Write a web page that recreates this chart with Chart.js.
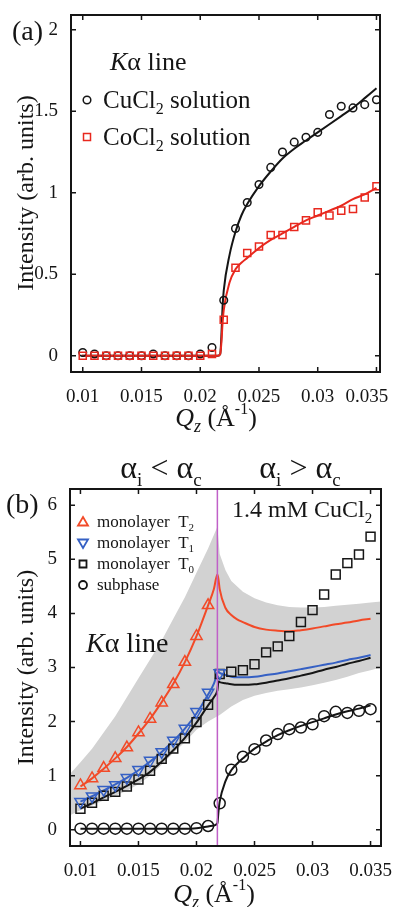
<!DOCTYPE html>
<html>
<head>
<meta charset="utf-8">
<script src="https://cdn.jsdelivr.net/npm/chart.js@4.4.1/dist/chart.umd.min.js"></script>
<style>
html, body { margin: 0; padding: 0; background: #fff; }
#wrap { position: relative; width: 394px; height: 907px; overflow: hidden; }
canvas { position: absolute; left: 0; }
#chartA { top: 0; }
#chartB { top: 440px; }
</style>
</head>
<body>
<div id="wrap">
  <canvas id="chartA" width="394" height="440"></canvas>
  <canvas id="chartB" width="394" height="467"></canvas>
</div>
<script>
// ---------- panel (a): bulk solutions, Ka line ----------
const qA = [0.010, 0.011, 0.012, 0.013, 0.014, 0.015, 0.016, 0.017, 0.018, 0.019, 0.020, 0.021, 0.022,
            0.023, 0.024, 0.025, 0.026, 0.027, 0.028, 0.029, 0.030, 0.031, 0.032, 0.033, 0.034, 0.035];
const cuCl2 = [0.02, 0.01, 0, 0, 0, 0, 0.01, 0, 0, 0, 0.01, 0.05, 0.34,
               0.78, 0.94, 1.05, 1.155, 1.25, 1.31, 1.34, 1.37, 1.48, 1.53, 1.52, 1.54, 1.57];
const coCl2 = [0, 0, 0, 0, 0, 0, 0, 0, 0, 0, 0, 0.01, 0.22,
               0.54, 0.63, 0.67, 0.74, 0.74, 0.79, 0.83, 0.88, 0.86, 0.89, 0.90, 0.97, 1.04];
const qFitA = [0.0099, 0.0215, 0.0217, 0.0218, 0.0219, 0.022, 0.0225, 0.023, 0.0235, 0.024, 0.025,
               0.026, 0.027, 0.028, 0.029, 0.030, 0.031, 0.032, 0.033, 0.034, 0.035];
const cuCl2Fit = [0, 0, 0.01, 0.12, 0.3, 0.4, 0.62, 0.76, 0.86, 0.93, 1.04,
                  1.13, 1.21, 1.27, 1.32, 1.37, 1.42, 1.47, 1.52, 1.58, 1.64];
const coCl2Fit = [0, 0, 0.01, 0.08, 0.2, 0.28, 0.45, 0.53, 0.57, 0.6, 0.66,
                  0.71, 0.75, 0.79, 0.83, 0.86, 0.89, 0.92, 0.96, 0.99, 1.03];
const yTicksA = [0, 0.5, 1, 1.5, 2];

// ---------- panel (b): monolayer on 1.4 mM CuCl2 ----------
const qB = qA;
const subphase = [0.02, 0.02, 0.02, 0.02, 0.02, 0.02, 0.02, 0.02, 0.02, 0.02, 0.03, 0.07, 0.49,
                  1.11, 1.35, 1.49, 1.65, 1.77, 1.86, 1.89, 1.95, 2.10, 2.18, 2.16, 2.20, 2.23];
const monoT0 = [0.39, 0.50, 0.63, 0.70, 0.80, 0.93, 1.09, 1.31, 1.50, 1.69, 1.99, 2.31, 2.88,
                2.92, 2.95, 3.06, 3.28, 3.39, 3.58, 3.84, 4.06, 4.35, 4.72, 4.93, 5.09, 5.42];
const monoT1 = [0.52, 0.62, 0.74, 0.83, 0.96, 1.11, 1.28, 1.44, 1.65, 1.87, 2.18, 2.54, 2.90];
const monoT2 = [0.82, 0.95, 1.14, 1.32, 1.52, 1.80, 2.05, 2.35, 2.69, 3.10, 3.58, 4.15];

const qFitB = [0.010, 0.011, 0.012, 0.013, 0.014, 0.015, 0.016, 0.017, 0.018, 0.019, 0.020, 0.021,
               0.0215, 0.0218, 0.0219, 0.022, 0.0225, 0.023, 0.0235, 0.024,
               0.025, 0.026, 0.027, 0.028, 0.029, 0.030, 0.031, 0.032, 0.033, 0.034, 0.035];
const t2Fit = [0.80, 0.95, 1.13, 1.32, 1.53, 1.78, 2.05, 2.36, 2.70, 3.10, 3.58, 4.15,
               4.45, 4.72, 4.62, 4.45, 4.10, 3.97, 3.89, 3.84,
               3.75, 3.70, 3.68, 3.67, 3.69, 3.72, 3.76, 3.80, 3.83, 3.87, 3.90];
const t1Fit = [0.52, 0.62, 0.73, 0.84, 0.96, 1.10, 1.26, 1.44, 1.64, 1.87, 2.15, 2.50,
               2.70, 2.90, 2.92, 2.90, 2.86, 2.83, 2.82, 2.82,
               2.83, 2.86, 2.89, 2.93, 2.97, 3.01, 3.05, 3.09, 3.14, 3.18, 3.23];
const t0Fit = [0.39, 0.49, 0.60, 0.70, 0.81, 0.93, 1.07, 1.26, 1.47, 1.70, 1.98, 2.30,
               2.45, 2.58, 2.74, 2.73, 2.71, 2.69, 2.68, 2.68,
               2.69, 2.72, 2.76, 2.80, 2.85, 2.90, 2.96, 3.01, 3.07, 3.12, 3.18];
const subFit = [0.02, 0.02, 0.02, 0.02, 0.02, 0.02, 0.02, 0.02, 0.02, 0.02, 0.03, 0.06,
                0.08, 0.12, 0.35, 0.52, 0.90, 1.10, 1.22, 1.32,
                1.50, 1.63, 1.75, 1.84, 1.92, 1.99, 2.06, 2.13, 2.19, 2.24, 2.30];

const qBand = [0.0091, 0.010, 0.011, 0.012, 0.013, 0.014, 0.015, 0.016, 0.017, 0.018, 0.019, 0.020, 0.021,
               0.0218, 0.022, 0.0225, 0.023, 0.024, 0.025, 0.026, 0.027, 0.028, 0.029, 0.030,
               0.031, 0.032, 0.033, 0.034, 0.035, 0.0359];
const bandUpper = [1.03, 1.25, 1.5, 1.8, 2.1, 2.45, 2.8, 3.15, 3.5, 3.9, 4.3, 4.75, 5.2,
                   5.6, 5.1, 4.8, 4.6, 4.4, 4.28, 4.2, 4.15, 4.12, 4.11, 4.11,
                   4.12, 4.14, 4.16, 4.18, 4.2, 4.22];
const bandLower = [0.27, 0.36, 0.45, 0.54, 0.63, 0.72, 0.84, 1.0, 1.2, 1.42, 1.62, 1.85, 2.0,
                   2.1, 2.12, 2.2, 2.28, 2.4, 2.48, 2.53, 2.57, 2.6, 2.63, 2.67,
                   2.72, 2.77, 2.83, 2.9, 2.95, 3.0];
const qCritical = 0.0218;
const yTicksB = [0, 1, 2, 3, 4, 5, 6];
const xTicks = [0.01, 0.015, 0.02, 0.025, 0.03, 0.035];

const SERIF = '"Liberation Serif", "Times New Roman", serif';
const INK = '#151515';
const RED = '#e8281e';
const ORANGE = '#f24a28';
const BLUE = '#3560c4';

function pts(xs, ys) {
  return ys.map((y, i) => ({ x: xs[i], y: y }));
}

// draw a run of text pieces (italic, smaller, raised/lowered) starting at x or centred on x
function rich(ctx, parts, x, y, size, center) {
  let w = 0;
  const fonts = parts.map(p => {
    const f = (p.i ? 'italic ' : '') + Math.round(size * (p.s || 1)) + 'px ' + SERIF;
    ctx.font = f;
    const pw = ctx.measureText(p.t).width;
    w += pw;
    return [f, pw];
  });
  let cx = center ? x - w / 2 : x;
  ctx.textAlign = 'left';
  ctx.textBaseline = 'alphabetic';
  parts.forEach((p, k) => {
    ctx.font = fonts[k][0];
    ctx.fillText(p.t, cx, y + (p.dy || 0) * size);
    cx += fonts[k][1];
  });
}

const qTitle = [{ t: 'Q', i: 1 }, { t: 'z', i: 1, s: 0.7, dy: 0.22 }, { t: ' (Å' },
                { t: '-1', s: 0.6, dy: -0.45 }, { t: ')' }];

// box with inward ticks on all four sides, like the original figure
const frame = {
  id: 'frame',
  afterDatasetsDraw(chart) {
    const { ctx, chartArea: a, scales: { x, y } } = chart;
    ctx.save();
    ctx.strokeStyle = INK;
    ctx.lineWidth = 1.5;
    ctx.beginPath();
    x.ticks.forEach(t => {
      const px = x.getPixelForValue(t.value);
      ctx.moveTo(px, a.bottom); ctx.lineTo(px, a.bottom - 5);
      ctx.moveTo(px, a.top); ctx.lineTo(px, a.top + 5);
    });
    y.ticks.forEach(t => {
      const py = y.getPixelForValue(t.value);
      ctx.moveTo(a.left, py); ctx.lineTo(a.left + 5, py);
      ctx.moveTo(a.right, py); ctx.lineTo(a.right - 5, py);
    });
    ctx.stroke();
    ctx.lineWidth = 2;
    ctx.strokeRect(a.left, a.top, a.right - a.left, a.bottom - a.top);
    ctx.restore();
  }
};

function yTitle(ctx, cx, cy) {
  ctx.save();
  ctx.translate(cx, cy);
  ctx.rotate(-Math.PI / 2);
  ctx.fillStyle = INK;
  rich(ctx, [{ t: 'Intensity (arb. units)' }], 0, 0, 24, true);
  ctx.restore();
}

function axes(xmin, xmax, ymin, ymax, yTicks, yWidth, xHeight, lastPad) {
  const tickFont = { family: SERIF, size: 19 };
  return {
    x: {
      type: 'linear', min: xmin, max: xmax,
      afterBuildTicks: s => { s.ticks = xTicks.map(v => ({ value: v })); },
      afterFit: s => { s.height = xHeight; s.paddingLeft = 0; s.paddingRight = 0; },
      grid: { display: false }, border: { display: false },
      ticks: {
        font: tickFont, color: INK, padding: 6, autoSkip: false, maxRotation: 0,
        callback: v => String(+v.toFixed(3)) + (v > 0.034 ? lastPad : '')
      }
    },
    y: {
      min: ymin, max: ymax,
      afterBuildTicks: s => { s.ticks = yTicks.map(v => ({ value: v })); },
      afterFit: s => { s.width = yWidth; s.paddingTop = 0; s.paddingBottom = 0; },
      grid: { display: false }, border: { display: false },
      ticks: { font: tickFont, color: INK, padding: 5, callback: v => String(v) }
    }
  };
}

const markerSet = (label, data, style, color, r, extra) => Object.assign({
  label: label, data: data, showLine: false, pointStyle: style, pointRadius: r,
  pointBorderColor: color, pointBackgroundColor: 'rgba(255,255,255,0)', pointBorderWidth: 1.5, order: 1
}, extra || {});

const fitSet = (label, data, color) => ({
  label: label, data: data, showLine: true, pointRadius: 0, borderColor: color,
  borderWidth: 2, cubicInterpolationMode: 'monotone', order: 3
});

// ---------- chart (a) ----------
const notesA = {
  id: 'notesA',
  afterDraw(chart) {
    const ctx = chart.ctx;
    ctx.save();
    ctx.fillStyle = INK;
    rich(ctx, [{ t: '(a)' }], 12, 40, 28);
    rich(ctx, [{ t: 'K', i: 1 }, { t: 'α line' }], 110, 70, 26);
    rich(ctx, [{ t: 'CuCl' }, { t: '2', s: 0.62, dy: 0.25 }, { t: ' solution' }], 103, 108, 25);
    rich(ctx, [{ t: 'CoCl' }, { t: '2', s: 0.62, dy: 0.25 }, { t: ' solution' }], 103, 145, 25);
    ctx.lineWidth = 1.5;
    ctx.strokeStyle = INK;
    ctx.beginPath(); ctx.arc(87, 100, 3.8, 0, Math.PI * 2); ctx.stroke();
    ctx.strokeStyle = RED;
    ctx.strokeRect(83.5, 133.5, 7, 7);
    rich(ctx, qTitle, 216, 426, 26, true);
    yTitle(ctx, 33, 193);
    ctx.restore();
  }
};

new Chart(document.getElementById('chartA'), {
  type: 'scatter',
  data: {
    datasets: [
      markerSet('CoCl2 solution', pts(qA, coCl2), 'rect', RED, 5),
      markerSet('CuCl2 solution', pts(qA, cuCl2), 'circle', INK, 3.8, { order: 2 }),
      fitSet('CoCl2 fit', pts(qFitA, coCl2Fit), RED),
      fitSet('CuCl2 fit', pts(qFitA, cuCl2Fit), INK)
    ]
  },
  options: {
    responsive: false, animation: false, devicePixelRatio: 1,
    layout: { padding: { top: 15, right: 14, left: 0, bottom: 0 } },
    scales: axes(0.009, 0.0353, -0.1, 2.09, yTicksA, 71, 68, '\u2002\u2002'),
    plugins: { legend: { display: false }, tooltip: { enabled: false } }
  },
  plugins: [frame, notesA]
});

// ---------- chart (b) ----------
const notesB = {
  id: 'notesB',
  afterDraw(chart) {
    const ctx = chart.ctx;
    ctx.save();
    ctx.fillStyle = INK;
    rich(ctx, [{ t: '(b)' }], 6, 73, 28);
    rich(ctx, [{ t: 'α' }, { t: 'i', s: 0.6, dy: 0.25 }, { t: ' < α' }, { t: 'c', s: 0.6, dy: 0.25 }], 161, 38, 32, true);
    rich(ctx, [{ t: 'α' }, { t: 'i', s: 0.6, dy: 0.25 }, { t: ' > α' }, { t: 'c', s: 0.6, dy: 0.25 }], 300, 38, 32, true);
    rich(ctx, [{ t: '1.4 mM CuCl' }, { t: '2', s: 0.62, dy: 0.25 }], 232, 77, 24);
    rich(ctx, [{ t: 'K', i: 1 }, { t: 'α line' }], 86, 212, 28);

    const rows = [
      [ORANGE, 'up', 'monolayer  T', '2'],
      [BLUE, 'down', 'monolayer  T', '1'],
      [INK, 'square', 'monolayer  T', '0'],
      [INK, 'circle', 'subphase', '']
    ];
    rows.forEach((r, k) => {
      const cy = 82 + k * 21;
      ctx.strokeStyle = r[0];
      ctx.lineWidth = 1.8;
      ctx.beginPath();
      if (r[1] === 'up') { ctx.moveTo(83, cy - 5); ctx.lineTo(88, cy + 3.5); ctx.lineTo(78, cy + 3.5); ctx.closePath(); }
      if (r[1] === 'down') { ctx.moveTo(83, cy + 5); ctx.lineTo(88, cy - 3.5); ctx.lineTo(78, cy - 3.5); ctx.closePath(); }
      if (r[1] === 'square') { ctx.rect(79.5, cy - 3.5, 7, 7); }
      if (r[1] === 'circle') { ctx.arc(83, cy, 4, 0, Math.PI * 2); }
      ctx.stroke();
      ctx.fillStyle = INK;
      const parts = [{ t: r[2] }];
      if (r[3]) parts.push({ t: r[3], s: 0.62, dy: 0.25 });
      rich(ctx, parts, 97, cy + 5, 17);
    });

    rich(ctx, qTitle, 214, 462, 26, true);
    yTitle(ctx, 33, 227.5);
    ctx.restore();
  }
};

new Chart(document.getElementById('chartB'), {
  type: 'scatter',
  data: {
    datasets: [
      { label: 'band upper', data: pts(qBand, bandUpper), showLine: true, pointRadius: 0, borderWidth: 0,
        borderColor: 'rgba(0,0,0,0)', backgroundColor: '#d2d2d2', fill: '+1', order: 10 },
      { label: 'band lower', data: pts(qBand, bandLower), showLine: true, pointRadius: 0, borderWidth: 0,
        borderColor: 'rgba(0,0,0,0)', fill: false, order: 11 },
      { label: 'critical angle', data: [{ x: qCritical, y: -0.3 }, { x: qCritical, y: 6.3 }], showLine: true,
        pointRadius: 0, borderColor: '#c060c8', borderWidth: 1.5, order: 0 },
      markerSet('monolayer T2', pts(qB, monoT2), 'triangle', ORANGE, 6.5),
      markerSet('monolayer T1', pts(qB, monoT1), 'triangle', BLUE, 6.5, { pointRotation: 180 }),
      markerSet('monolayer T0', pts(qB, monoT0), 'rect', INK, 6.3),
      markerSet('subphase', pts(qB, subphase), 'circle', INK, 5.5),
      fitSet('T2 fit', pts(qFitB, t2Fit), ORANGE),
      fitSet('T1 fit', pts(qFitB, t1Fit), BLUE),
      fitSet('T0 fit', pts(qFitB, t0Fit), INK),
      fitSet('subphase fit', pts(qFitB, subFit), INK)
    ]
  },
  options: {
    responsive: false, animation: false, devicePixelRatio: 1,
    layout: { padding: { top: 49, right: 13, left: 0, bottom: 0 } },
    scales: axes(0.0091, 0.0359, -0.3, 6.3, yTicksB, 70, 61, ''),
    plugins: { legend: { display: false }, tooltip: { enabled: false } }
  },
  plugins: [frame, notesB]
});
</script>
</body>
</html>
